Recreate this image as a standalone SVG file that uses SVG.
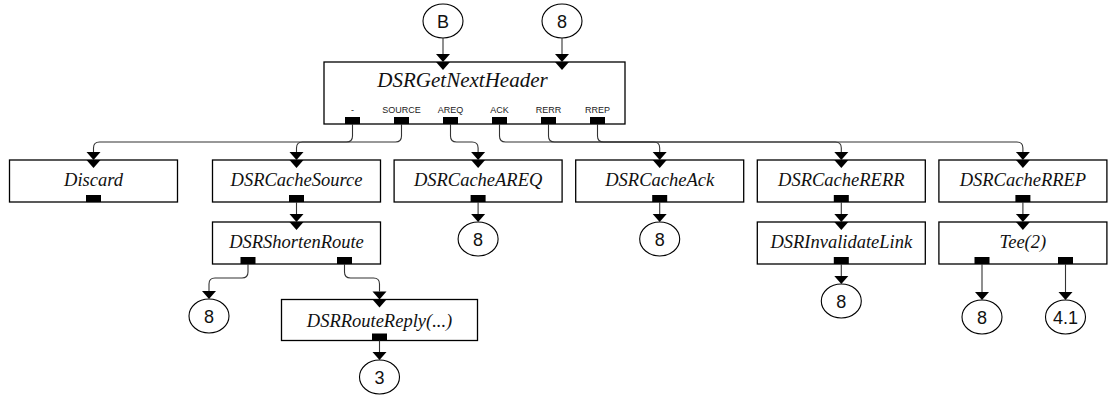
<svg xmlns="http://www.w3.org/2000/svg" xmlns:xlink="http://www.w3.org/1999/xlink" width="1116" height="396" viewBox="0 0 1116 396">
  <style>
    .box { fill: #fff; stroke: #000; stroke-width: 1.3; }
    .port { fill: #000; }
    .term { fill: #fff; stroke: #000; stroke-width: 1.1; }
    .name { font-family: "Liberation Serif", "Times New Roman", serif; font-style: italic; font-size: 18.5px; fill: #111; text-anchor: middle; }
    .title { font-size: 21px; }
    .plabel { font-family: "Liberation Sans", Arial, sans-serif; font-size: 9px; fill: #222; text-anchor: middle; }
    .tlabel { font-family: "Liberation Sans", Arial, sans-serif; font-size: 18px; fill: #111; text-anchor: middle; }
    .wire { fill: none; stroke: #333; stroke-width: 1.1; }
    .head { fill: #000; }
  </style>
  <defs>
    <!-- arrowhead: tip at origin, pointing down -->
    <path id="ah" d="M-7,-8 H7 L0,0 Z"/>
    <!-- input port triangle: base at origin, inside the element -->
    <path id="inp" d="M-7,0 H7 L0,8 Z"/>
    <!-- output port block: 15x7, bottom-centre at origin -->
    <rect id="outp" x="-7.5" y="-7" width="15" height="7"/>
  </defs>

  <!-- entry points -->
  <g id="term-B">
    <ellipse class="term" cx="443" cy="21" rx="20" ry="17"/>
    <text class="tlabel" x="443" y="27.5">B</text>
  </g>
  <g id="term-8-top">
    <ellipse class="term" cx="562" cy="21" rx="20" ry="17"/>
    <text class="tlabel" x="562" y="27.5">8</text>
  </g>

  <!-- classifier element with six outputs -->
  <g id="node-getnextheader">
    <rect class="box" x="324" y="62" width="301" height="62"/>
    <text class="name title" x="462.5" y="87">DSRGetNextHeader</text>
    <use href="#inp" class="head" x="443" y="62"/>
    <use href="#inp" class="head" x="562" y="62"/>
    <text class="plabel" x="352.5" y="113">-</text>
    <text class="plabel" x="401.5" y="113">SOURCE</text>
    <text class="plabel" x="450.5" y="113">AREQ</text>
    <text class="plabel" x="499.5" y="113">ACK</text>
    <text class="plabel" x="548.5" y="113">RERR</text>
    <text class="plabel" x="597.5" y="113">RREP</text>
    <use href="#outp" class="port" x="352.5" y="124"/>
    <use href="#outp" class="port" x="401.5" y="124"/>
    <use href="#outp" class="port" x="450.5" y="124"/>
    <use href="#outp" class="port" x="499.5" y="124"/>
    <use href="#outp" class="port" x="548.5" y="124"/>
    <use href="#outp" class="port" x="597.5" y="124"/>
  </g>

  <!-- first row -->
  <g id="node-discard">
    <rect class="box" x="9.5" y="160" width="168" height="42"/>
    <text class="name" x="93.5" y="186">Discard</text>
    <use href="#inp" class="head" x="93.5" y="160"/>
    <use href="#outp" class="port" x="93.5" y="202"/>
  </g>
  <g id="node-cachesource">
    <rect class="box" x="212.5" y="160" width="168" height="42"/>
    <text class="name" x="296.5" y="186">DSRCacheSource</text>
    <use href="#inp" class="head" x="296.5" y="160"/>
    <use href="#outp" class="port" x="296.5" y="202"/>
  </g>
  <g id="node-cacheareq">
    <rect class="box" x="394.1" y="160" width="168" height="42"/>
    <text class="name" x="478.1" y="186">DSRCacheAREQ</text>
    <use href="#inp" class="head" x="478.1" y="160"/>
    <use href="#outp" class="port" x="478.1" y="202"/>
  </g>
  <g id="node-cacheack">
    <rect class="box" x="575.7" y="160" width="168" height="42"/>
    <text class="name" x="659.7" y="186">DSRCacheAck</text>
    <use href="#inp" class="head" x="659.7" y="160"/>
    <use href="#outp" class="port" x="659.7" y="202"/>
  </g>
  <g id="node-cacherr">
    <rect class="box" x="757.3" y="160" width="168" height="42"/>
    <text class="name" x="841.3" y="186">DSRCacheRERR</text>
    <use href="#inp" class="head" x="841.3" y="160"/>
    <use href="#outp" class="port" x="841.3" y="202"/>
  </g>
  <g id="node-cacherrep">
    <rect class="box" x="938.9" y="160" width="168" height="42"/>
    <text class="name" x="1022.9" y="186">DSRCacheRREP</text>
    <use href="#inp" class="head" x="1022.9" y="160"/>
    <use href="#outp" class="port" x="1022.9" y="202"/>
  </g>

  <!-- second row -->
  <g id="node-shortenroute">
    <rect class="box" x="212.5" y="222" width="168" height="42"/>
    <text class="name" x="296.5" y="248">DSRShortenRoute</text>
    <use href="#inp" class="head" x="296.5" y="222"/>
    <use href="#outp" class="port" x="248" y="264"/>
    <use href="#outp" class="port" x="344.5" y="264"/>
  </g>
  <g id="node-invalidatelink">
    <rect class="box" x="757.3" y="222" width="168" height="42"/>
    <text class="name" x="841.3" y="248">DSRInvalidateLink</text>
    <use href="#inp" class="head" x="841.3" y="222"/>
    <use href="#outp" class="port" x="841.3" y="264"/>
  </g>
  <g id="node-tee">
    <rect class="box" x="938.9" y="222" width="168" height="42"/>
    <text class="name" x="1022.9" y="248">Tee(2)</text>
    <use href="#inp" class="head" x="1022.9" y="222"/>
    <use href="#outp" class="port" x="982" y="264"/>
    <use href="#outp" class="port" x="1065.5" y="264"/>
  </g>
  <g id="node-routereply">
    <rect class="box" x="281.5" y="299.5" width="196" height="41"/>
    <text class="name" x="379.5" y="326.5">DSRRouteReply(...)</text>
    <use href="#inp" class="head" x="379.5" y="299.5"/>
    <use href="#outp" class="port" x="379.5" y="340.5"/>
  </g>

  <!-- exit points -->
  <g id="term-8-areq">
    <ellipse class="term" cx="478.1" cy="239" rx="20" ry="17"/>
    <text class="tlabel" x="478.1" y="245.5">8</text>
  </g>
  <g id="term-8-ack">
    <ellipse class="term" cx="659.7" cy="239" rx="20" ry="17"/>
    <text class="tlabel" x="659.7" y="245.5">8</text>
  </g>
  <g id="term-8-shorten">
    <ellipse class="term" cx="209" cy="316" rx="20" ry="17"/>
    <text class="tlabel" x="209" y="322.5">8</text>
  </g>
  <g id="term-3">
    <ellipse class="term" cx="379.5" cy="377" rx="20" ry="17"/>
    <text class="tlabel" x="379.5" y="383.5">3</text>
  </g>
  <g id="term-8-invalidate">
    <ellipse class="term" cx="841.3" cy="301" rx="20" ry="17"/>
    <text class="tlabel" x="841.3" y="307.5">8</text>
  </g>
  <g id="term-8-tee">
    <ellipse class="term" cx="982" cy="317" rx="20" ry="17"/>
    <text class="tlabel" x="982" y="323.5">8</text>
  </g>
  <g id="term-4-1">
    <ellipse class="term" cx="1065.5" cy="317" rx="20" ry="17"/>
    <text class="tlabel" x="1065.5" y="323.5">4.1</text>
  </g>

  <!-- connectors -->
  <g id="connectors">
    <path class="wire" d="M443,38 V54"/>
    <path class="wire" d="M562,38 V54"/>
    <path class="wire" d="M352.5,124 V136 Q352.5,142 346.5,142 H99.5 Q93.5,142 93.5,148 V152"/>
    <path class="wire" d="M401.5,124 V136 Q401.5,142 395.5,142 H302.5 Q296.5,142 296.5,148 V152"/>
    <path class="wire" d="M450.5,124 V136 Q450.5,142 456.5,142 H472.1 Q478.1,142 478.1,148 V152"/>
    <path class="wire" d="M499.5,124 V136 Q499.5,142 505.5,142 H653.7 Q659.7,142 659.7,148 V152"/>
    <path class="wire" d="M548.5,124 V136 Q548.5,142 554.5,142 H835.3 Q841.3,142 841.3,148 V152"/>
    <path class="wire" d="M597.5,124 V136 Q597.5,142 603.5,142 H1016.9 Q1022.9,142 1022.9,148 V152"/>
    <path class="wire" d="M296.5,202 V214"/>
    <path class="wire" d="M478.1,202 V214"/>
    <path class="wire" d="M659.7,202 V214"/>
    <path class="wire" d="M841.3,202 V214"/>
    <path class="wire" d="M1022.9,202 V214"/>
    <path class="wire" d="M248,264 V272 Q248,278 242,278 H215 Q209,278 209,284 V291"/>
    <path class="wire" d="M344.5,264 V272 Q344.5,278 350.5,278 H373.5 Q379.5,278 379.5,284 V291.5"/>
    <path class="wire" d="M379.5,340.5 V352"/>
    <path class="wire" d="M841.3,264 V276"/>
    <path class="wire" d="M982,264 V292"/>
    <path class="wire" d="M1065.5,264 V292"/>

    <use href="#ah" class="head" x="443" y="62"/>
    <use href="#ah" class="head" x="562" y="62"/>
    <use href="#ah" class="head" x="93.5" y="160"/>
    <use href="#ah" class="head" x="296.5" y="160"/>
    <use href="#ah" class="head" x="478.1" y="160"/>
    <use href="#ah" class="head" x="659.7" y="160"/>
    <use href="#ah" class="head" x="841.3" y="160"/>
    <use href="#ah" class="head" x="1022.9" y="160"/>
    <use href="#ah" class="head" x="296.5" y="222"/>
    <use href="#ah" class="head" x="478.1" y="222"/>
    <use href="#ah" class="head" x="659.7" y="222"/>
    <use href="#ah" class="head" x="841.3" y="222"/>
    <use href="#ah" class="head" x="1022.9" y="222"/>
    <use href="#ah" class="head" x="209" y="299"/>
    <use href="#ah" class="head" x="379.5" y="299.5"/>
    <use href="#ah" class="head" x="379.5" y="360"/>
    <use href="#ah" class="head" x="841.3" y="284"/>
    <use href="#ah" class="head" x="982" y="300"/>
    <use href="#ah" class="head" x="1065.5" y="300"/>
  </g>
</svg>
